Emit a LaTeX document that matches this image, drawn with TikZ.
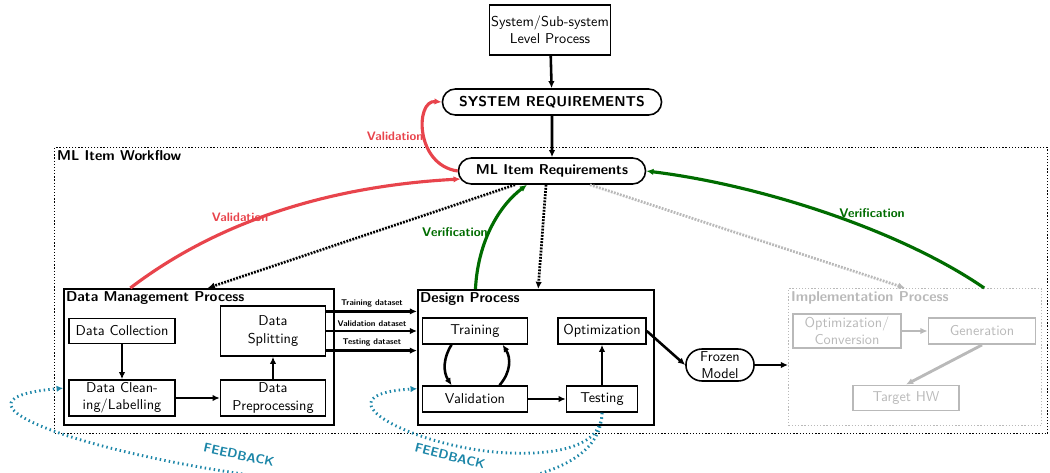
\documentclass[tikz,border=0pt]{standalone}
\usetikzlibrary{shapes.misc,arrows.meta,calc}
\definecolor{valred}{RGB}{232,68,76}
\definecolor{vergreen}{RGB}{0,108,0}
\definecolor{fbteal}{RGB}{28,134,168}
\definecolor{implgray}{RGB}{185,185,185}
\newcommand\pxl[1]{#1*0.7pt}
\begin{document}
\begin{tikzpicture}[x=0.7pt,y=-0.7pt,font=\sffamily,
  box/.style={draw,line width=1.1pt,inner sep=1pt,align=center},
  pill/.style={draw,rounded rectangle,line width=1.1pt,inner sep=1pt,font=\sffamily\bfseries},
  container/.style={draw,line width=1.1pt,anchor=north west,inner sep=0pt},
  title/.style={anchor=north west,inner sep=2pt,font=\sffamily\bfseries},
  ibox/.style={draw=implgray,text=implgray,line width=1.3pt,inner sep=1pt,align=center},
  arr/.style={-{Latex[length=5pt,width=4.5pt]},line width=1.8pt},
  garr/.style={draw=implgray,-{Latex[length=5pt,width=4.5pt]},line width=2pt},
  redarr/.style={draw=valred,-{Latex[length=5pt,width=4.5pt]},line width=2.2pt},
  grnarr/.style={draw=vergreen,-{Latex[length=5pt,width=4.5pt]},line width=2.2pt},
  blkdot/.style={-{Latex[length=5pt,width=4.5pt]},line width=1.9pt,dash pattern=on 1.3pt off 0.9pt},
  gdot/.style={draw=implgray,-{Latex[length=5pt,width=4.5pt]},line width=1.9pt,dash pattern=on 1.3pt off 0.9pt},
  fbarr/.style={draw=fbteal,-{Latex[length=4.5pt,width=4.5pt]},line width=2pt,dash pattern=on 1pt off 2.2pt},
  redlbl/.style={text=valred,font=\sffamily\bfseries\fontsize{8.6}{10}\selectfont,inner sep=1pt},
  grnlbl/.style={text=vergreen,font=\sffamily\bfseries\fontsize{8.8}{10}\selectfont,inner sep=1pt},
  fblbl/.style={text=fbteal,font=\sffamily\bfseries\small,inner sep=1pt},
  dslbl/.style={font=\sffamily\bfseries\fontsize{5.8}{7}\selectfont,inner sep=1pt}]
\useasboundingbox (0,0) rectangle (1050,473);
\clip (0,0) rectangle (1050,473);

% top
\node[box,minimum width=\pxl{121},minimum height=\pxl{50}] (sys) at (550,30) {System/Sub-system\\Level Process};
\node[pill,minimum width=\pxl{222},minimum height=\pxl{26}] (sysreq) at (552,102) {SYSTEM REQUIREMENTS};
\node[pill,minimum width=\pxl{190},minimum height=\pxl{26}] (mlreq) at (552,171) {ML Item Requirements};

% workflow frame
\node[draw,line width=1pt,dash pattern=on 0.9pt off 1.3pt,anchor=north west,inner sep=0pt,minimum width=\pxl{993},minimum height=\pxl{286}] (wf) at (54,147) {};
\node[title] (wft) at (wf.north west) {ML Item Workflow};

% containers
\node[container,minimum width=\pxl{270},minimum height=\pxl{136}] (dmp) at (63,288) {};
\node[title] (dmpt) at (dmp.north west) {Data Management Process};
\node[container,minimum width=\pxl{236},minimum height=\pxl{135}] (dsg) at (417,289) {};
\node[title] (dsgt) at (dsg.north west) {Design Process};
\node[draw=implgray,line width=1pt,dash pattern=on 0.9pt off 1.3pt,anchor=north west,inner sep=0pt,minimum width=\pxl{253},minimum height=\pxl{137}] (impl) at (788,288) {};
\node[title,text=implgray] (implt) at (impl.north west) {Implementation Process};

% data management
\node[box,minimum width=\pxl{106},minimum height=\pxl{25}] (dc) at (122,331) {Data Collection};
\node[box,minimum width=\pxl{106},minimum height=\pxl{36}] (dcl) at (122,398) {Data Clean-\\ing/Labelling};
\node[box,minimum width=\pxl{105},minimum height=\pxl{50}] (ds) at (273,331) {Data\\Splitting};
\node[box,minimum width=\pxl{105},minimum height=\pxl{36}] (dp) at (273,398) {Data\\Preprocessing};

% design
\node[box,minimum width=\pxl{105},minimum height=\pxl{26}] (tr) at (475,331) {Training};
\node[box,minimum width=\pxl{105},minimum height=\pxl{26}] (va) at (475,399) {Validation};
\node[box,minimum width=\pxl{88},minimum height=\pxl{26}] (op) at (602,331) {Optimization};
\node[box,minimum width=\pxl{71},minimum height=\pxl{26}] (te) at (602,399) {Testing};

\node[draw,rounded rectangle,line width=1.1pt,inner sep=1pt,align=center,minimum width=\pxl{71},minimum height=\pxl{32}] (fm) at (720,365) {Frozen\\Model};

% implementation
\node[ibox,minimum width=\pxl{108},minimum height=\pxl{34}] (oc) at (847,331) {Optimization/\\Conversion};
\node[ibox,minimum width=\pxl{107},minimum height=\pxl{26}] (ge) at (982,331) {Generation};
\node[ibox,minimum width=\pxl{106},minimum height=\pxl{25}] (hw) at (906,398) {Target HW};

% top arrows
\draw[arr] (sys) -- (sysreq);
\draw[arr] (sysreq) -- (mlreq);
\draw[redarr] (mlreq.west) .. controls (415,165) and (415,100) .. (sysreq.west);
\node[redlbl,anchor=east] (vl1) at (425,136) {Validation};

% coordinates on borders
\coordinate (dmpA) at ($(dmp.north west)!0.248!(dmp.north east)$);
\coordinate (dmpB) at ($(dmp.north west)!0.533!(dmp.north east)$);
\coordinate (dsgA) at ($(dsg.north west)!0.246!(dsg.north east)$);
\coordinate (dsgB) at ($(dsg.north west)!0.51!(dsg.north east)$);
\coordinate (implA) at ($(impl.north west)!0.46!(impl.north east)$);
\coordinate (implB) at ($(impl.north west)!0.771!(impl.north east)$);
\coordinate (mlA) at ($(mlreq.west)+(3,8)$);
\coordinate (mlB) at ($(mlreq.south)+(-37,0)$);
\coordinate (mlC) at ($(mlreq.south)+(-25,0)$);
\coordinate (mlD) at ($(mlreq.south)+(-6,0)$);
\coordinate (mlE) at ($(mlreq.south)+(38,0)$);

\draw[redarr] (dmpA) .. controls (230,212) and (350,185) .. (mlA);
\node[redlbl] (vl2) at (240,217) {Validation};
\draw[blkdot] (mlB) -- (dmpB);
\draw[grnarr] (dsgA) .. controls (478,240) and (500,205) .. (mlC);
\node[grnlbl] (vf1) at (455,232) {Verification};
\draw[blkdot] (mlD) -- (dsgB);
\draw[gdot] (mlE) -- (implA);
\draw[grnarr] (implB) .. controls (900,230) and (760,185) .. (mlreq.east);
\node[grnlbl] (vf2) at (872,213) {Verification};

% data management arrows
\draw[arr] (dc) -- (dcl);
\draw[arr] (dcl) -- (dp);
\draw[arr] (dp) -- (ds);

% datasets
\coordinate (d1) at ($(ds.north east)!0.12!(ds.south east)$);
\coordinate (d2) at ($(ds.north east)!0.5!(ds.south east)$);
\coordinate (d3) at ($(ds.north east)!0.88!(ds.south east)$);
\draw[arr] (d1) -- (d1 -| dsg.west);
\draw[arr] (d2) -- (d2 -| dsg.west);
\draw[arr] (d3) -- (d3 -| dsg.west);
\node[dslbl] (l1) at (372,303) {Training dataset};
\node[dslbl] (l2) at (372,324) {Validation dataset};
\node[dslbl] (l3) at (372,342) {Testing dataset};

% design arrows
\coordinate (trA) at ($(tr.south west)!0.28!(tr.south east)$);
\coordinate (trB) at ($(tr.south west)!0.76!(tr.south east)$);
\coordinate (vaA) at ($(va.north west)!0.28!(va.north east)$);
\coordinate (vaB) at ($(va.north west)!0.73!(va.north east)$);
\draw[arr] (trA) .. controls (443,358) and (443,372) .. (vaA);
\draw[arr] (vaB) .. controls (511,372) and (511,358) .. (trB);
\draw[arr] (va) -- (te);
\draw[arr] (te) -- (op);
\draw[arr] (op.east) -- (fm.west);
\draw[arr] (fm.east) -- (fm.east -| impl.west);

% implementation arrows
\draw[garr] (oc) -- (ge);
\draw[garr] (ge.south) -- (hw.north);

% feedback
\coordinate (fbA) at ($(dmp.north west)!0.728!(dmp.south west)$);
\coordinate (fbB) at ($(dsg.north west)!0.73!(dsg.south west)$);
\coordinate (fbM) at (510,453);
\draw[fbarr] (te.south) .. controls (600,585) and (-185,410) .. (fbA);
\draw[fbarr] (te.south) .. controls (602,445) and (560,455) .. (fbM)
  .. controls (420,450) and (310,395) .. (fbB);
\node[fblbl,rotate=-12] (fb1) at (239,455) {FEEDBACK};
\node[fblbl,rotate=-14] (fb2) at (450,456) {FEEDBACK};
\end{tikzpicture}
\end{document}
